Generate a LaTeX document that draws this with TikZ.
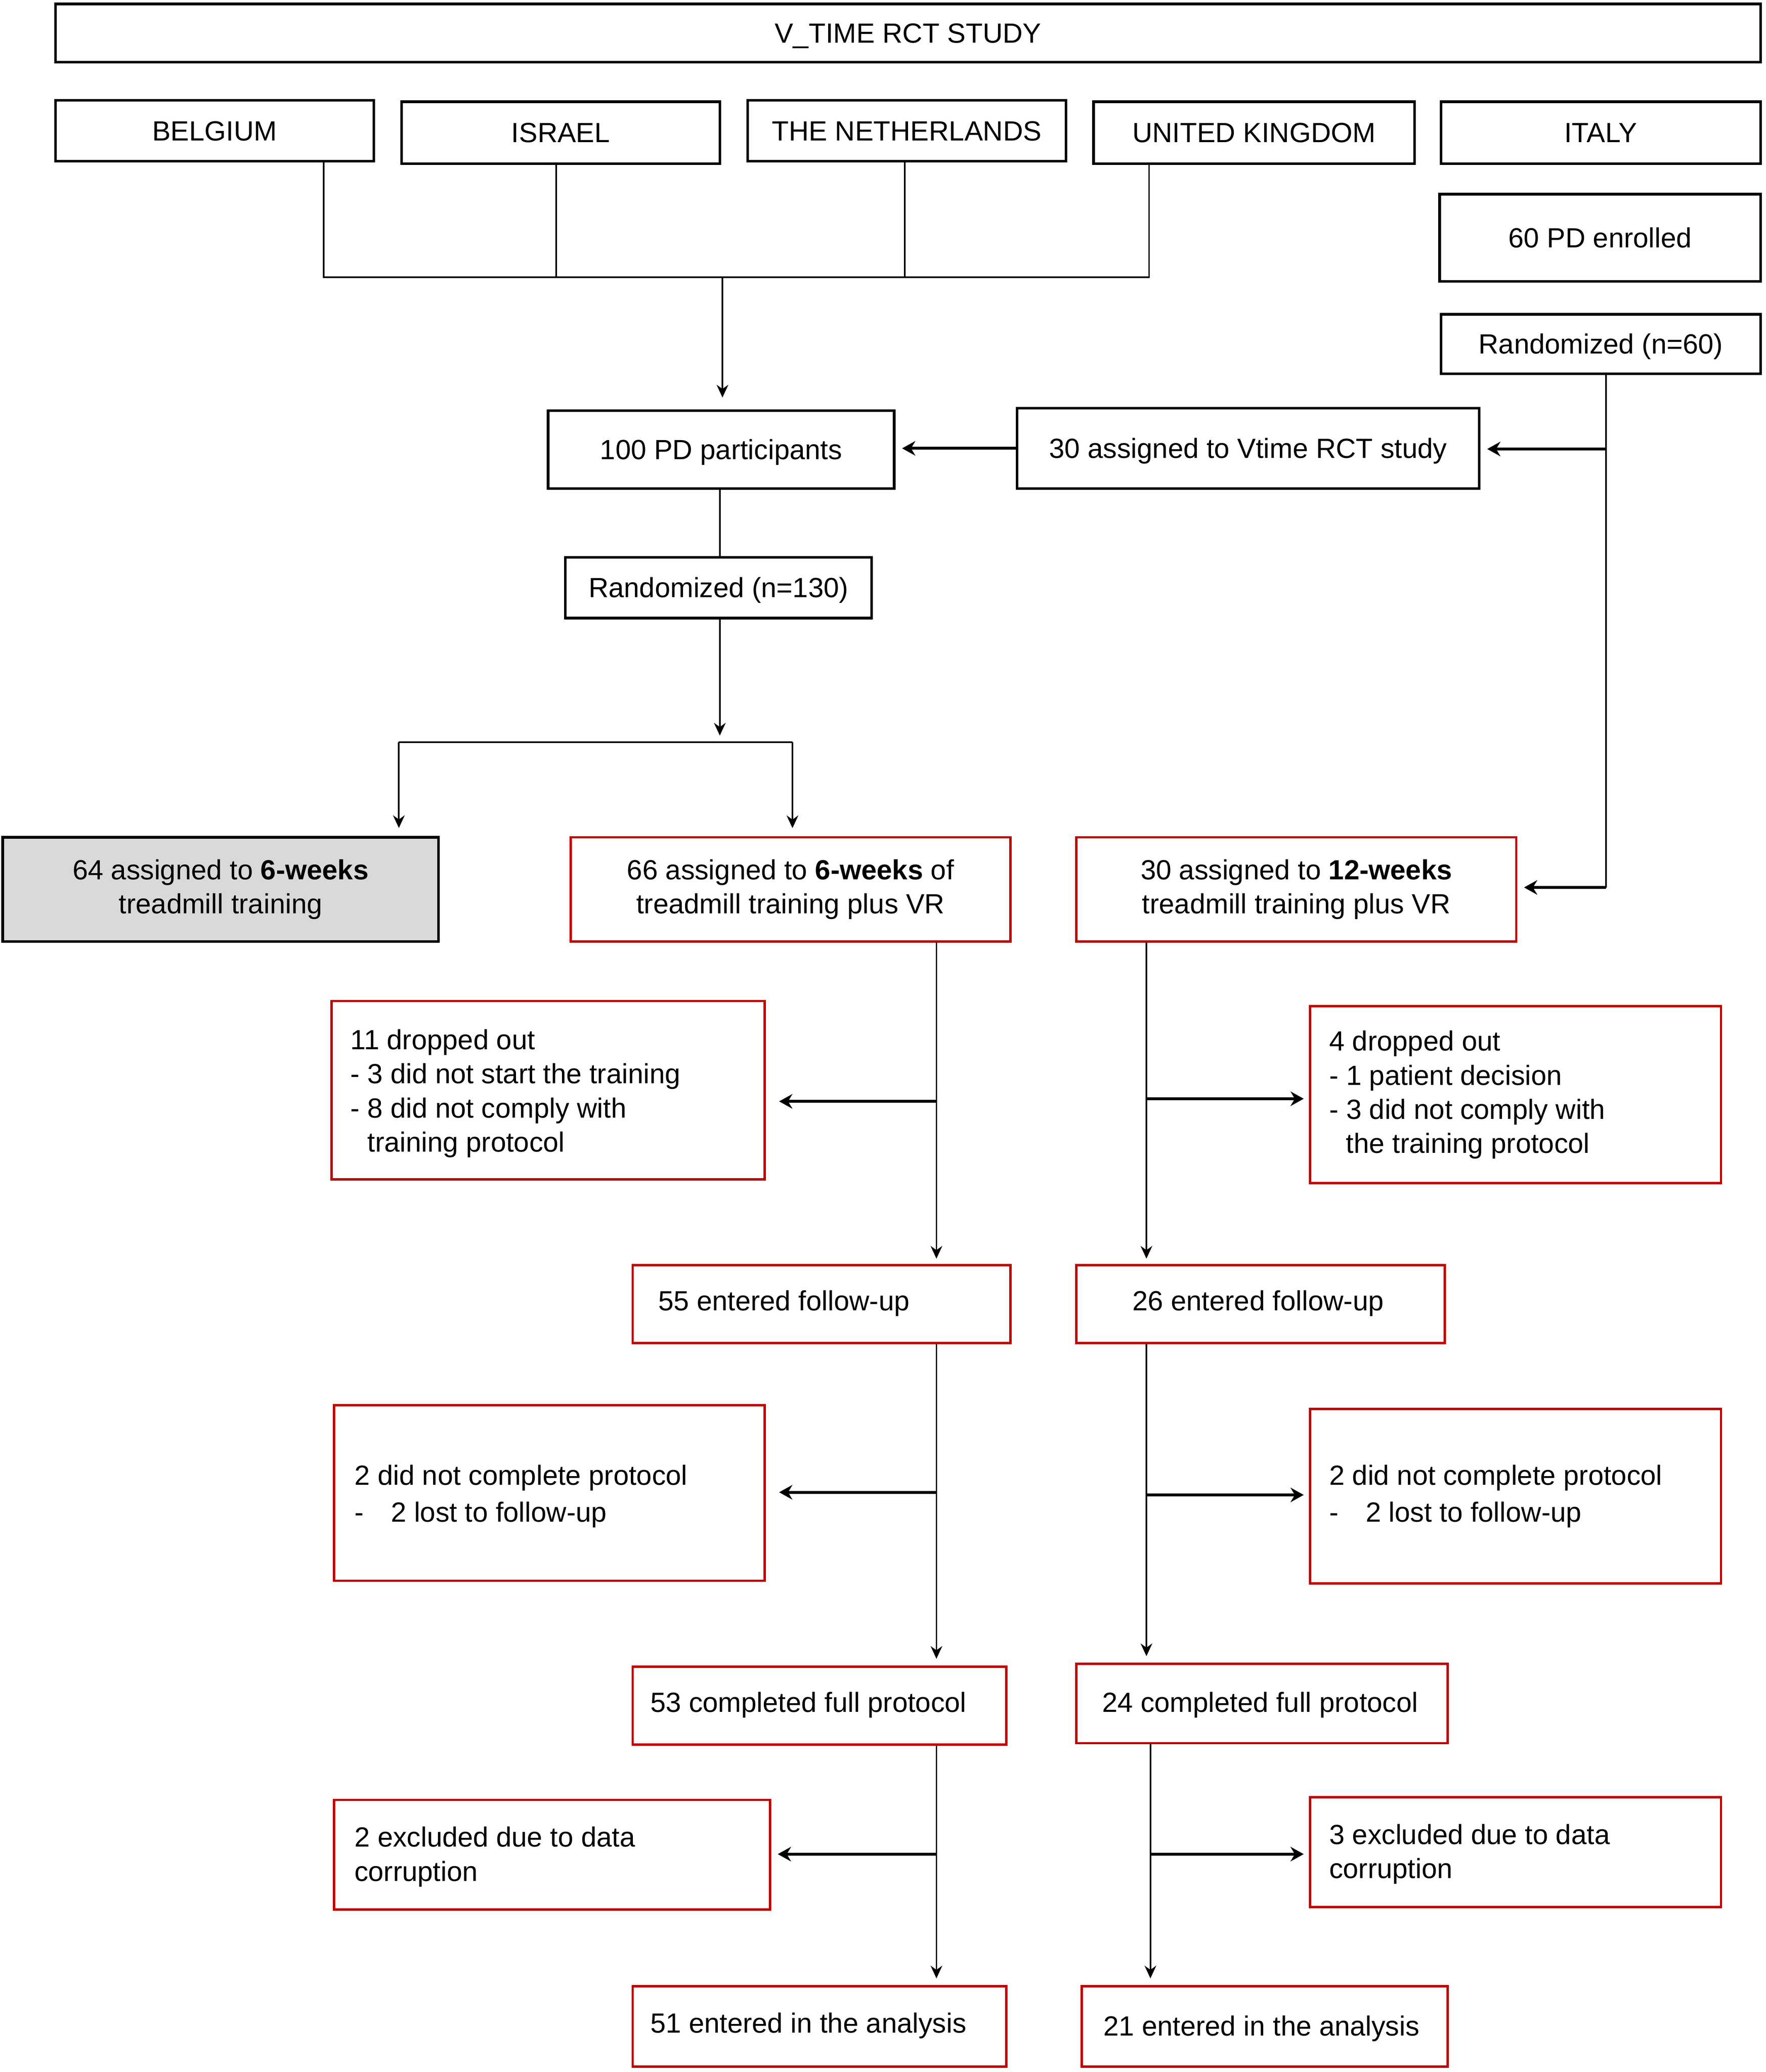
\documentclass[tikz,border=0pt]{standalone}
\usepackage{fontspec}
\setmainfont{Liberation Sans}
\usetikzlibrary{arrows.meta}
\definecolor{boxred}{HTML}{C00000}
\definecolor{boxgray}{HTML}{D9D9D9}
\begin{document}
\begin{tikzpicture}[x=0.5pt,y=-0.5pt,
  every node/.style={font=\fontsize{10.5}{12.9}\selectfont},
  sz/.style 2 args={minimum width={#1*0.5pt},minimum height={#2*0.5pt}},
  one/.style={text height=9.6pt,text depth=2.2pt},
  bbox/.style={draw=black,line width=1pt,inner sep=0pt,align=center},
  rbox/.style={draw=boxred,line width=0.9pt,inner sep=0pt,align=center},
  gbox/.style={draw=black,fill=boxgray,line width=1pt,inner sep=0pt,align=center},
  ltxt/.style={anchor=west,align=left,inner sep=0pt},
  conn/.style={line width=0.6pt},
  varr/.style={line width=0.6pt,-{Stealth[length=4.8pt,width=4.4pt]}},
  harr/.style={line width=1.1pt,-{Stealth[length=5pt,width=5.5pt]}}
]
\useasboundingbox (0,0) rectangle (1337,1569);

% top boxes
\node[bbox,one,sz={1291}{44}] (title) at (687.5,25) {V\_TIME RCT STUDY};
\node[bbox,one,sz={241}{46}] (bel) at (162.5,99) {BELGIUM};
\node[bbox,one,sz={241}{47}] (isr) at (424.5,100.5) {ISRAEL};
\node[bbox,one,sz={241}{46}] (net) at (686.5,99) {THE NETHERLANDS};
\node[bbox,one,sz={243}{47}] (uk) at (949.5,100.5) {UNITED KINGDOM};
\node[bbox,one,sz={242}{47}] (ita) at (1212,100.5) {ITALY};
\node[bbox,one,sz={243}{66}] (enr) at (1211.5,180) {60 PD enrolled};
\node[bbox,one,sz={242}{45}] (r60) at (1212,260.5) {Randomized (n=60)};
\node[bbox,one,sz={262}{59}] (pd100) at (546,340.5) {100 PD participants};
\node[bbox,one,sz={350}{61}] (a30) at (945,339.5) {30 assigned to Vtime RCT study};
\node[bbox,one,sz={232}{46}] (r130) at (544,445) {Randomized (n=130)};

% arms
\node[gbox,sz={330}{79}] (g64) at (167,673.5) {64 assigned to \textbf{6-weeks}\\treadmill training};
\node[rbox,sz={333}{79}] (g66) at (598.5,673.5) {66 assigned to \textbf{6-weeks} of\\treadmill training plus VR};
\node[rbox,sz={333}{79}] (g30) at (981.5,673.5) {30 assigned to \textbf{12-weeks}\\treadmill training plus VR};

% dropout boxes
\node[rbox,sz={328}{135}] (d11) at (415,825.5) {};
\node[ltxt] (d11t) at (265,828) {11 dropped out\\- 3 did not start the training\\- 8 did not comply with\\\hspace*{6.4pt}training protocol};
\node[rbox,sz={311}{134}] (d4) at (1147.5,829) {};
\node[ltxt] (d4t) at (1006,829) {4 dropped out\\- 1 patient decision\\- 3 did not comply with\\\hspace*{6.4pt}the training protocol};

% follow-up
\node[rbox,sz={286}{59}] (f55) at (622,987.5) {};
\node[ltxt] (f55t) at (498,987) {55 entered follow-up};
\node[rbox,sz={279}{59}] (f26) at (954.5,987.5) {};
\node[ltxt] (f26t) at (857,987) {26 entered follow-up};

\node[rbox,sz={326}{133}] (n2L) at (416,1130.5) {};
\node[ltxt] (n2Lt) at (268,1133) {2 did not complete protocol\\[1pt]-\hspace*{10.3pt}2 lost to follow-up};
\node[rbox,sz={311}{132}] (n2R) at (1147.5,1133) {};
\node[ltxt] (n2Rt) at (1006,1133) {2 did not complete protocol\\[1pt]-\hspace*{10.3pt}2 lost to follow-up};

% completed
\node[rbox,sz={283}{59}] (c53) at (620.5,1291.5) {};
\node[ltxt] (c53t) at (492,1291) {53 completed full protocol};
\node[rbox,sz={281}{60}] (c24) at (955.5,1290) {};
\node[ltxt] (c24t) at (834,1291) {24 completed full protocol};

\node[rbox,sz={330}{83}] (e2) at (418,1404.5) {};
\node[ltxt] (e2t) at (268,1406) {2 excluded due to data\\corruption};
\node[rbox,sz={311}{83}] (e3) at (1147.5,1402.5) {};
\node[ltxt] (e3t) at (1006,1404) {3 excluded due to data\\corruption};

\node[rbox,sz={283}{61}] (a51) at (620.5,1534.5) {};
\node[ltxt] (a51t) at (492,1534) {51 entered in the analysis};
\node[rbox,sz={277}{61}] (a21) at (957.5,1534.5) {};
\node[ltxt] (a21t) at (835,1536) {21 entered in the analysis};

% junction coordinates
\coordinate (j1) at (245,210);
\coordinate (j2) at (421,210);
\coordinate (j3) at (685,210);
\coordinate (j4) at (870,210);
\coordinate (jm) at (547,210);
\coordinate (it1) at (1216,340);
\coordinate (it2) at (1216,672);
\coordinate (s0) at (545,562);
\coordinate (sL) at (302,562);
\coordinate (sR) at (600,562);
\coordinate (l1) at (709,834);
\coordinate (r1) at (868,832);
\coordinate (l2) at (709,1130);
\coordinate (r2) at (868,1132);
\coordinate (l3) at (709,1404);
\coordinate (r3) at (871,1404);

% country merge
\draw[conn] (bel.south -| j1) -- (j1) -- (j4) -- (uk.south -| j4);
\draw[conn] (isr.south -| j2) -- (j2);
\draw[conn] (net.south -| j3) -- (j3);
\draw[varr,shorten >=4.5pt] (jm) -- (pd100.north -| jm);

% Italy branch
\draw[conn] (r60.south -| it1) -- (it2);
\draw[harr,shorten >=2.5pt] (it1) -- (it1 -| a30.east);
\draw[harr,shorten >=2.5pt] (it2) -- (it2 -| g30.east);
\draw[harr,shorten >=2.5pt] (a30.west) -- (a30.west -| pd100.east);

% randomization
\draw[conn] (pd100.south -| s0) -- (r130.north -| s0);
\draw[varr,shorten >=2.5pt] (r130.south -| s0) -- (s0);
\draw[conn] (sL) -- (sR);
\draw[varr,shorten >=3pt] (sL) -- (sL |- g64.north);
\draw[varr,shorten >=3pt] (sR) -- (sR |- g66.north);

% left column
\draw[varr,shorten >=2pt] (g66.south -| l1) -- (f55.north -| l1);
\draw[harr,shorten >=5pt] (l1) -- (l1 -| d11.east);
\draw[varr,shorten >=2.5pt] (f55.south -| l2) -- (c53.north -| l2);
\draw[harr,shorten >=5pt] (l2) -- (l2 -| n2L.east);
\draw[varr,shorten >=2.5pt] (c53.south -| l3) -- (a51.north -| l3);
\draw[harr,shorten >=2.5pt] (l3) -- (l3 -| e2.east);

% right column
\draw[varr,shorten >=2pt] (g30.south -| r1) -- (f26.north -| r1);
\draw[harr,shorten >=2pt] (r1) -- (r1 -| d4.west);
\draw[varr,shorten >=2.5pt] (f26.south -| r2) -- (c24.north -| r2);
\draw[harr,shorten >=2pt] (r2) -- (r2 -| n2R.west);
\draw[varr,shorten >=2.5pt] (c24.south -| r3) -- (a21.north -| r3);
\draw[harr,shorten >=2pt] (r3) -- (r3 -| e3.west);
\end{tikzpicture}
\end{document}
